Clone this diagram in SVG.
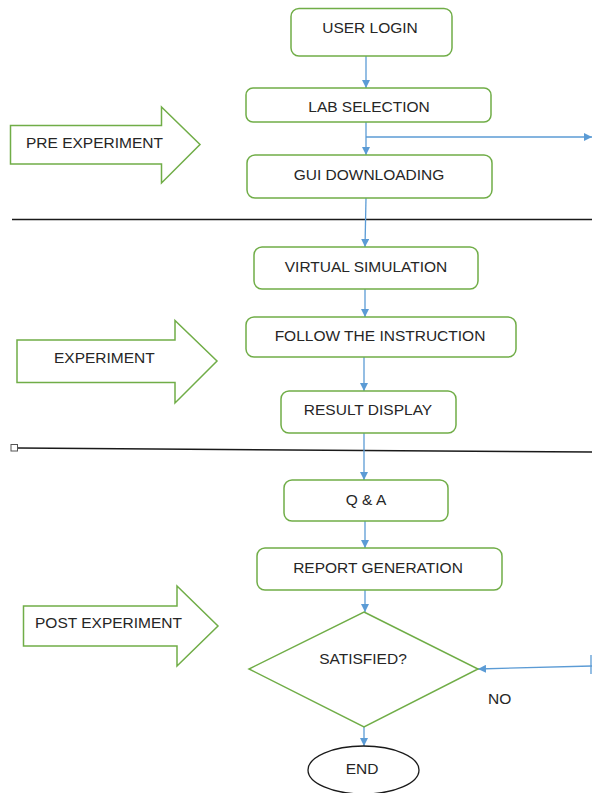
<svg xmlns="http://www.w3.org/2000/svg" width="592" height="793" viewBox="0 0 592 793">
<style>
.box{fill:#fff;stroke:#70AD47;stroke-width:1.5}
.lbl{font-family:"Liberation Sans",Arial,sans-serif;font-size:15.5px;fill:#262626;text-anchor:middle}
.side{font-family:"Liberation Sans",Arial,sans-serif;font-size:15.5px;fill:#262626}
.con{fill:none;stroke:#5B9BD5;stroke-width:1.3}
.sep{fill:none;stroke:#1a1a1a;stroke-width:1.5}
</style>
<defs>
<marker id="ah" viewBox="0 0 10 10" refX="10" refY="5" markerWidth="8" markerHeight="8" markerUnits="userSpaceOnUse" orient="auto">
<path d="M0,0 L10,5 L0,10 Z" fill="#5B9BD5"/>
</marker>
</defs>
<rect width="592" height="793" fill="#fff"/>

<g id="separators">
<line class="sep" x1="12" y1="219.5" x2="592" y2="219.5"/>
<line class="sep" x1="18" y1="448" x2="592" y2="452"/>
<rect x="11" y="444.5" width="6.5" height="6.5" fill="#fff" stroke="#555" stroke-width="1"/>
</g>

<g id="connectors">
<line class="con" x1="366" y1="56" x2="366" y2="88" marker-end="url(#ah)"/>
<line class="con" x1="366" y1="122" x2="366" y2="155" marker-end="url(#ah)"/>
<line class="con" x1="366" y1="137" x2="592" y2="137" marker-end="url(#ah)"/>
<line class="con" x1="366" y1="198" x2="365" y2="247" marker-end="url(#ah)"/>
<line class="con" x1="365" y1="289" x2="365" y2="317" marker-end="url(#ah)"/>
<line class="con" x1="364" y1="357" x2="364" y2="391" marker-end="url(#ah)"/>
<line class="con" x1="364" y1="433" x2="364" y2="480" marker-end="url(#ah)"/>
<line class="con" x1="365" y1="521" x2="365" y2="548" marker-end="url(#ah)"/>
<line class="con" x1="365" y1="590" x2="365" y2="612" marker-end="url(#ah)"/>
<line class="con" x1="364" y1="727" x2="364" y2="746" marker-end="url(#ah)"/>
<line class="con" x1="592" y1="666" x2="478" y2="669" marker-end="url(#ah)"/>
<line class="con" x1="591" y1="655" x2="591" y2="674"/>
</g>

<g id="pre-experiment">
<path class="box" d="M10.5,125.5 L161.5,125.5 L161.5,107 L200,144.5 L161.5,183 L161.5,164 L10.5,164 Z"/>
<text class="side" x="26" y="148">PRE EXPERIMENT</text>
</g>
<g id="experiment">
<path class="box" d="M17,340 L175,340 L175,320.5 L217,361 L175,403 L175,382.5 L17,382.5 Z"/>
<text class="side" x="54" y="363">EXPERIMENT</text>
</g>
<g id="post-experiment">
<path class="box" d="M23.5,606 L177,606 L177,586 L218,626 L177,666 L177,646 L23.5,646 Z"/>
<text class="side" x="35" y="628">POST EXPERIMENT</text>
</g>

<g id="user-login">
<rect class="box" x="291" y="8.5" width="161" height="47.5" rx="8"/>
<text class="lbl" x="370" y="33">USER LOGIN</text>
</g>
<g id="lab-selection">
<rect class="box" x="246" y="88" width="245" height="34" rx="7"/>
<text class="lbl" x="369" y="112">LAB SELECTION</text>
</g>
<g id="gui-downloading">
<rect class="box" x="247" y="155" width="245" height="43" rx="8"/>
<text class="lbl" x="369" y="180">GUI DOWNLOADING</text>
</g>
<g id="virtual-simulation">
<rect class="box" x="254" y="247" width="224" height="42" rx="8"/>
<text class="lbl" x="366" y="272">VIRTUAL SIMULATION</text>
</g>
<g id="follow-instruction">
<rect class="box" x="246" y="317" width="270" height="40" rx="8"/>
<text class="lbl" x="380" y="341">FOLLOW THE INSTRUCTION</text>
</g>
<g id="result-display">
<rect class="box" x="281" y="391" width="175" height="42" rx="8"/>
<text class="lbl" x="368" y="415">RESULT DISPLAY</text>
</g>
<g id="qa">
<rect class="box" x="284" y="480" width="164" height="41" rx="8"/>
<text class="lbl" x="366" y="505">Q &amp; A</text>
</g>
<g id="report-generation">
<rect class="box" x="257" y="548" width="245" height="42" rx="8"/>
<text class="lbl" x="378" y="573">REPORT GENERATION</text>
</g>
<g id="satisfied">
<path class="box" d="M364,612 L478,669 L364,727 L249,669 Z"/>
<text class="lbl" x="363" y="664">SATISFIED?</text>
</g>
<g id="no-label">
<text class="side" x="488" y="704">NO</text>
</g>
<g id="end">
<ellipse cx="363.5" cy="770" rx="55.5" ry="24" fill="#fff" stroke="#1a1a1a" stroke-width="1.3"/>
<text class="lbl" x="362" y="774">END</text>
</g>
</svg>
